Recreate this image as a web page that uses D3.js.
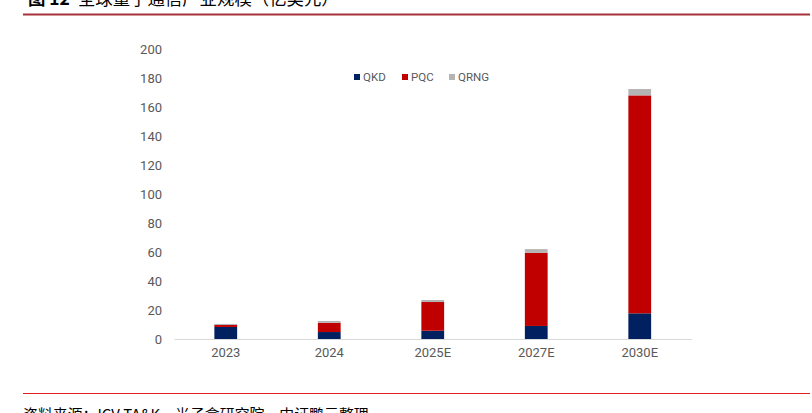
<!DOCTYPE html>
<html><head><meta charset="utf-8">
<script src="https://cdn.jsdelivr.net/npm/d3@7"></script>
<style>html,body{margin:0;padding:0;background:#fff;overflow:hidden}</style>
</head><body>
<svg id="c" width="812" height="413"></svg>
<script>
const categories = ["2023", "2024", "2025E", "2027E", "2030E"];
const qkd  = [8.3, 4.8, 5.7, 9.0, 17.7];
const pqc  = [1.4, 6.4, 19.8, 50.5, 150.3];
const qrng = [0.7, 1.2, 1.4, 2.5, 4.4];
const seriesNames = ["QKD", "PQC", "QRNG"];
const seriesColors = ["#002060", "#C00000", "#B4B4B4"];
const yTicks = [0, 20, 40, 60, 80, 100, 120, 140, 160, 180, 200];

const svg = d3.select("#c");
const plot = {left: 174, right: 691.5, top: 49, bottom: 339};

const x = d3.scaleBand().domain(categories).range([plot.left, plot.right]).paddingInner(0.78).paddingOuter(0.39);
const y = d3.scaleLinear().domain([0, 200]).range([plot.bottom, plot.top]);

const rows = categories.map((c, i) => ({cat: c, QKD: qkd[i], PQC: pqc[i], QRNG: qrng[i]}));
const stacked = d3.stack().keys(seriesNames)(rows);

// title line & title (cut at the top edge, as in the reference)
svg.append("line").attr("x1", 23).attr("x2", 810).attr("y1", 14.5).attr("y2", 14.5)
  .attr("stroke", "#A8323A").attr("stroke-width", 2);
const title = svg.append("text").attr("x", 28).attr("y", 4.5)
  .attr("font-family", "'Noto Sans CJK SC', sans-serif").attr("font-size", 17.4).attr("fill", "#000");
title.append("tspan").attr("font-weight", "bold").text("图 12");
title.append("tspan").attr("dx", 8).text("全球量子通信产业规模（亿美元）");

// footer (cut at the bottom edge, as in the reference)
svg.append("line").attr("x1", 23).attr("x2", 810).attr("y1", 393.5).attr("y2", 393.5)
  .attr("stroke", "#E02020").attr("stroke-width", 1);
svg.append("text").attr("x", 23).attr("y", 419.5)
  .attr("font-family", "'Noto Sans CJK SC', sans-serif").attr("font-size", 14.9).attr("fill", "#000")
  .text("资料来源：ICV TA&K，光子盒研究院，中证鹏元整理");

// y axis (no line)
const yAxis = d3.axisLeft(y).tickValues(yTicks).tickSize(0).tickPadding(0);
const gy = svg.append("g").attr("transform", `translate(${plot.left - 12},0)`).call(yAxis);
gy.select(".domain").remove();
gy.selectAll("text").attr("font-family", "Roboto, 'Liberation Sans', sans-serif")
  .attr("font-size", 13).attr("fill", "#595959").attr("dy", "0.35em");

// bars
svg.append("g").selectAll("g").data(stacked).join("g")
  .attr("fill", (d, i) => seriesColors[i])
  .selectAll("rect").data(d => d).join("rect")
  .attr("x", d => x(d.data.cat))
  .attr("width", x.bandwidth())
  .attr("y", d => y(d[1]))
  .attr("height", d => y(d[0]) - y(d[1]));

// x axis
const xAxis = d3.axisBottom(x).tickSize(0).tickPadding(9);
const gx = svg.append("g").attr("transform", `translate(0,${plot.bottom})`).call(xAxis);
gx.select(".domain").attr("stroke", "#D9D9D9").attr("stroke-width", 1);
gx.selectAll("text").attr("font-family", "Roboto, 'Liberation Sans', sans-serif")
  .attr("font-size", 13).attr("fill", "#595959");

// legend
const legendX = [354, 402, 449];
const lg = svg.append("g");
seriesNames.forEach((n, i) => {
  lg.append("rect").attr("x", legendX[i]).attr("y", 74).attr("width", 6).attr("height", 6).attr("fill", seriesColors[i]);
  lg.append("text").attr("x", legendX[i] + 9).attr("y", 77).attr("dy", "0.35em")
    .attr("font-family", "Roboto, 'Liberation Sans', sans-serif").attr("font-size", 11.5).attr("fill", "#595959").text(n);
});
</script>
</body></html>
